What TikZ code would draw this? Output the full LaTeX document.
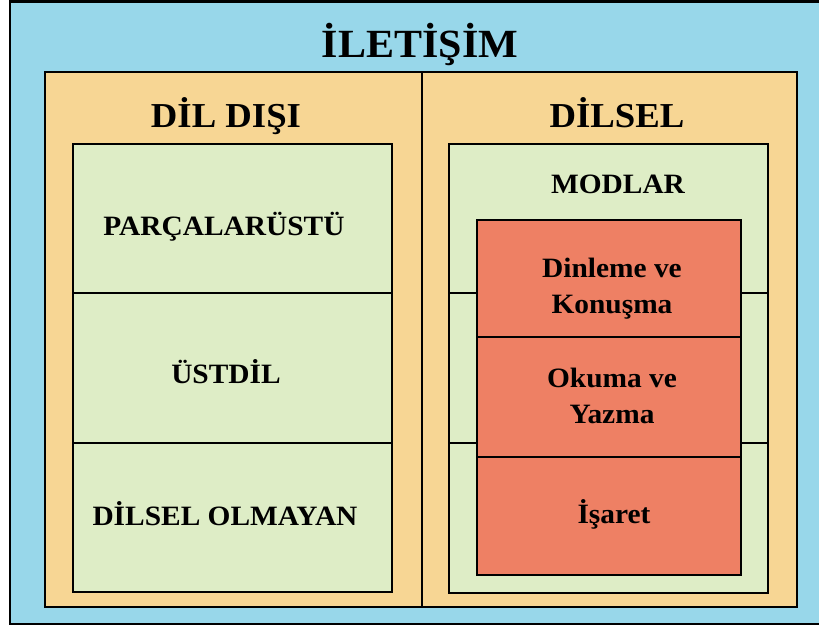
\documentclass[tikz,border=0pt]{standalone}
\usepackage{fontspec}
\setmainfont{Liberation Serif}[FakeStretch=1.05]
\usepackage{tikz}
\usetikzlibrary{positioning}

\definecolor{skyfill}{RGB}{152,215,234}
\definecolor{sandfill}{RGB}{247,214,148}
\definecolor{leaffill}{RGB}{222,237,198}
\definecolor{redfill}{RGB}{238,128,100}

\tikzset{
    frame/.style = {draw=black, line width=2.6pt},
    rule/.style = {draw=black, line width=2pt},
    title/.style = {font=\bfseries\fontsize{40}{42}\selectfont, anchor=base},
    head/.style = {font=\bfseries\fontsize{35}{38}\selectfont, anchor=base},
    item/.style = {font=\bfseries\fontsize{28}{30}\selectfont, anchor=base},
    mode/.style = {font=\bfseries\fontsize{28}{36}\selectfont, align=center, anchor=base}
}

\begin{document}
\begin{tikzpicture}[x=1pt, y=-1pt]
            \useasboundingbox (0, 0) rectangle (819, 635);
            % background and outer frame
            \fill [white] (0, 0) rectangle (819, 635);
            \filldraw [skyfill, frame] (10, 1.5) rectangle (830, 624);
            \node [title] (iletisim) at (420, 57) {İLETİŞİM};
            % two halves
            \filldraw [sandfill, frame] (45, 72) rectangle (797, 607);
            \draw [frame] (422, 72) -- (422, 607);
            \node [head] (dildisi) at (226, 127) {DİL DIŞI};
            \node [head] (dilsel) at (617, 127) {DİLSEL};
            % left column
            \filldraw [leaffill, rule] (73, 144) rectangle (392, 592);
            \draw [rule] (73, 293) -- (392, 293);
            \draw [rule] (73, 443) -- (392, 443);
            \node [item] (parcalar) at (224, 235) {PARÇALARÜSTÜ};
            \node [item] (ustdil) at (226, 383) {ÜSTDİL};
            \node [item] (olmayan) at (225, 525) {DİLSEL OLMAYAN};
            % right column
            \filldraw [leaffill, rule] (449, 144) rectangle (768, 593);
            \draw [rule] (449, 293) -- (768, 293);
            \draw [rule] (449, 443) -- (768, 443);
            \node [item] (modlar) at (618, 193) {MODLAR};
            \filldraw [redfill, rule] (477, 220) rectangle (741, 575);
            \draw [rule] (477, 337) -- (741, 337);
            \draw [rule] (477, 457) -- (741, 457);
            \node [mode] (dinleme) at (612, 313) {Dinleme ve\\Konuşma};
            \node [mode] (okuma) at (612, 423) {Okuma ve\\Yazma};
            \node [mode] (isaret) at (614, 523) {İşaret};
\end{tikzpicture}
\end{document}
